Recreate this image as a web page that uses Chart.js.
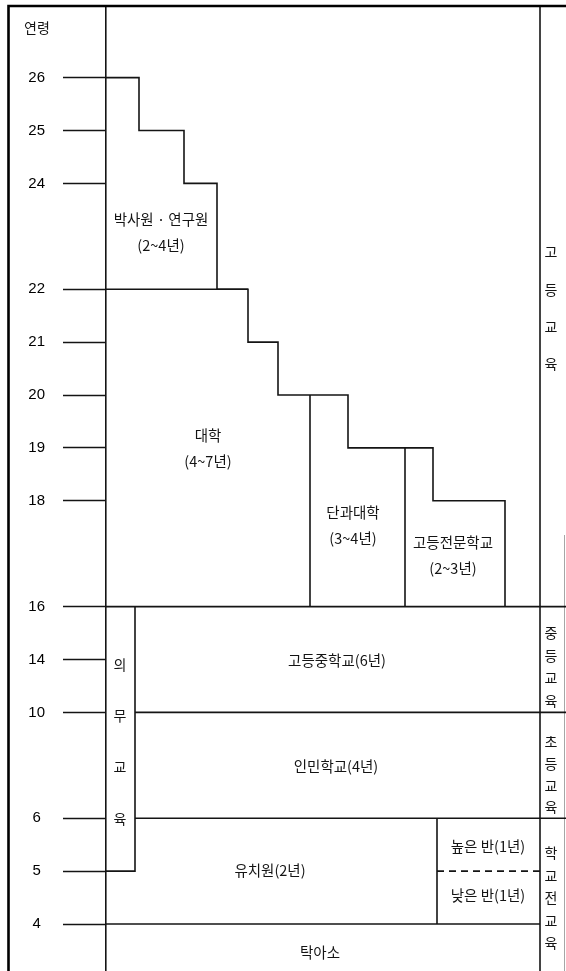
<!DOCTYPE html>
<html>
<head>
<meta charset="utf-8">
<script src="https://cdn.jsdelivr.net/npm/chart.js@4.4.1/dist/chart.umd.min.js"></script>
<style>
  html, body { margin: 0; padding: 0; background: #fff; }
  #wrap { position: relative; width: 566px; height: 971px; }
</style>
</head>
<body>
<div id="wrap"><canvas id="c"></canvas></div>
<script>
// ---------- DATA ----------
// Vertical axis slots (ages); blank slots are the breaks in the original diagram
const ageLabels = ['4', '5', '6', '', '10', '14', '16', '', '18', '19', '20', '21', '22', '', '24', '25', '26'];
const axisTitle = '연령';

// Upper envelope of higher education (age at each step, left to right)
const stairAges = [26, 26, 25, 25, 24, 24, 22, 22, 21, 21, 20, 20, 19, 19, 18, 18, 16];
const stairCols = ['axis', 'd1', 'd1', 'd2', 'd2', 'd3', 'd3', 'u1', 'u1', 'u2', 'u2', 'c2', 'c2', 's2', 's2', 's3', 's3'];

// Other boundaries: [column key, age] pairs
const doctorateBase   = [['axis', 22], ['u1', 22]];
const collegeLeft     = [['college', 20], ['college', 16]];
const specialistLeft  = [['special', 19], ['special', 16]];
const age16Line       = [['axis', 16], ['edge', 16]];
const compulsoryBox   = [['compulsory', 16], ['compulsory', 5], ['axis', 5]];
const age10Line       = [['compulsory', 10], ['edge', 10]];
const age6Line        = [['compulsory', 6], ['edge', 6]];
const kinderSplit     = [['kinder', 6], ['kinder', 4]];
const age4Line        = [['axis', 4], ['side', 4]];
const kinderClassLine = [['kinder', 5], ['side', 5]];

// School names
const schoolNames = [
  ['박사원 · 연구원', '(2~4년)'],
  ['대학', '(4~7년)'],
  ['단과대학', '(3~4년)'],
  ['고등전문학교', '(2~3년)'],
  ['고등중학교(6년)'],
  ['인민학교(4년)'],
  ['유치원(2년)'],
  ['높은 반(1년)'],
  ['낮은 반(1년)'],
  ['탁아소']
];
// Education stage names (written vertically)
const stageNames = ['의무교육', '고등교육', '중등교육', '초등교육', '학교전교육'];

// ---------- LAYOUT (diagram grid, not data) ----------
const col = {
  axis: 0, compulsory: 2.9, d1: 3.3, d2: 7.8, d3: 11.1, u1: 14.2, u2: 17.2,
  college: 20.4, c2: 24.2, special: 29.9, s2: 32.7, kinder: 33.1, s3: 39.9,
  side: 43.4, edge: 46
};
const schoolPos = [
  [5.5, 13.07], [10.2, 8.98], [24.7, 7.54], [34.7, 6.96], [23.1, 4.99],
  [23.0, 2.97], [16.4, 1.02], [38.2, 1.47], [38.2, 0.53], [21.4, -0.53]
];
const stagePos = [ // [col, top slot, bottom slot]
  [1.4, 4.90, 2.00], [44.5, 12.70, 10.60], [44.5, 5.50, 4.23], [44.5, 3.44, 2.21], [44.5, 1.34, -0.36]
];

const slot = a => ageLabels.indexOf(String(a));
const STEP = 52.9, ZERO = 924, H = 971, TOP = 6;
const yMin = -(H - ZERO) / STEP, yMax = (ZERO - TOP) / STEP;

const INK = '#141414';
function seg(pairs, dash) {
  return {
    data: pairs.map(([c, a]) => ({ x: col[c], y: slot(a) })),
    showLine: true, pointRadius: 0, borderColor: INK, borderWidth: 1.6,
    borderDash: dash || [], tension: 0, fill: false, clip: false
  };
}

const datasets = [
  seg(stairCols.map((c, i) => [c, stairAges[i]])),
  seg(doctorateBase), seg(collegeLeft), seg(specialistLeft), seg(age16Line),
  seg(compulsoryBox), seg(age10Line), seg(age6Line), seg(kinderSplit), seg(age4Line),
  seg(kinderClassLine, [7, 5]),
  { data: [{ x: col.side, y: yMin }, { x: col.side, y: yMax }], showLine: true, pointRadius: 0,
    borderColor: INK, borderWidth: 1.6, clip: false }
];

const KFONT = '"Noto Sans CJK KR", "Noto Sans", sans-serif';

const decor = {
  id: 'decor',
  afterDatasetsDraw(chart) {
    const { ctx, scales: { x, y } } = chart;
    ctx.save();
    // outer frame (left and top)
    ctx.strokeStyle = '#000';
    ctx.lineWidth = 2.6;
    ctx.beginPath();
    ctx.moveTo(8.5, chart.height);
    ctx.lineTo(8.5, TOP);
    ctx.lineTo(chart.width, TOP);
    ctx.stroke();
    // faint right edge of the scan
    ctx.strokeStyle = 'rgba(0,0,0,0.35)';
    ctx.lineWidth = 1;
    ctx.beginPath();
    ctx.moveTo(564.5, 535);
    ctx.lineTo(564.5, chart.height);
    ctx.stroke();

    ctx.fillStyle = INK;
    ctx.textAlign = 'center';
    ctx.textBaseline = 'middle';
    // axis title
    ctx.font = '14px ' + KFONT;
    ctx.fillText(axisTitle, 37, 28);

    // school names
    ctx.font = '14.5px ' + KFONT;
    schoolNames.forEach((lines, i) => {
      const cx = x.getPixelForValue(schoolPos[i][0]);
      const cy = y.getPixelForValue(schoolPos[i][1]);
      const lh = 26;
      const y0 = cy - (lines.length - 1) * lh / 2;
      lines.forEach((t, j) => ctx.fillText(t, cx, y0 + j * lh));
    });

    // vertical stage names
    ctx.font = '14px ' + KFONT;
    stageNames.forEach((name, i) => {
      const chars = Array.from(name);
      const [c, top, bot] = stagePos[i];
      const cx = x.getPixelForValue(c);
      const y1 = y.getPixelForValue(top), y2 = y.getPixelForValue(bot);
      chars.forEach((ch, k) => {
        const t = chars.length > 1 ? k / (chars.length - 1) : 0;
        ctx.fillText(ch, cx, y1 + (y2 - y1) * t);
      });
    });
    ctx.restore();
  }
};

new Chart(document.getElementById('c'), {
  type: 'scatter',
  data: { datasets },
  options: {
    responsive: true,
    maintainAspectRatio: false,
    animation: false,
    events: [],
    layout: { padding: { top: TOP, left: 0, right: 0, bottom: 0 } },
    plugins: { legend: { display: false }, tooltip: { enabled: false } },
    scales: {
      x: { type: 'linear', min: 0, max: col.edge, display: false },
      y: {
        type: 'linear', min: yMin, max: yMax,
        afterBuildTicks: s => {
          s.ticks = ageLabels.map((l, i) => (l ? { value: i } : null)).filter(Boolean);
        },
        afterFit: s => { s.width = 106; s.paddingTop = 0; s.paddingBottom = 0; },
        ticks: {
          autoSkip: false,
          padding: 18,
          crossAlign: 'center',
          color: '#000',
          font: { family: '"Liberation Sans", Arial, sans-serif', size: 15 },
          callback: v => ageLabels[v]
        },
        grid: { drawOnChartArea: false, drawTicks: true, tickLength: 43, tickColor: INK, tickWidth: 1.5 },
        border: { display: true, color: INK, width: 1.6 }
      }
    }
  },
  plugins: [decor]
});
</script>
</body>
</html>
